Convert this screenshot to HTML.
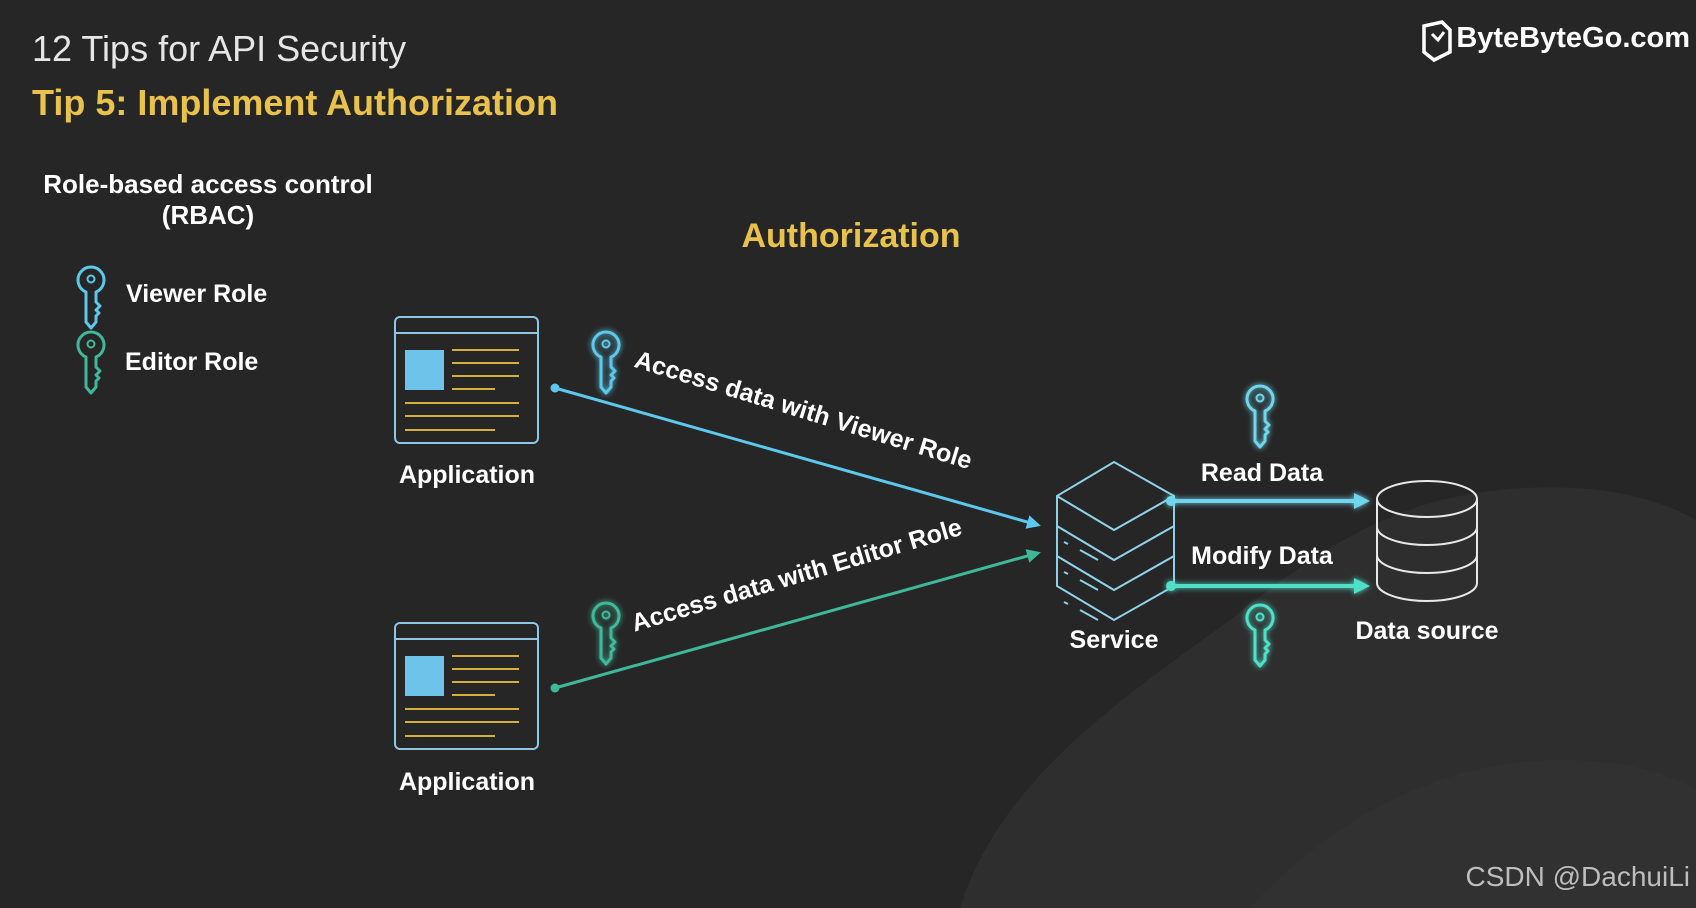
<!DOCTYPE html>
<html><head><meta charset="utf-8"><style>
html,body{margin:0;padding:0;background:#262626;}
svg{display:block}
text{font-family:"Liberation Sans",sans-serif;}
</style></head><body>
<svg width="1696" height="908" viewBox="0 0 1696 908" xmlns="http://www.w3.org/2000/svg">
<defs>
<filter id="glow" x="-50%" y="-50%" width="200%" height="200%"><feGaussianBlur stdDeviation="3" result="b"/><feMerge><feMergeNode in="b"/><feMergeNode in="SourceGraphic"/></feMerge></filter>
<g id="key" fill="none" stroke-width="3" stroke-linejoin="round">
<path d="M-5,10 A13,13 0 1 1 5,10 L5,20 L9,24 L5,28 L8,31 L5,34 L5,40 L0,46 L-5,40 Z"/>
<circle cx="0" cy="-3" r="3.5" stroke-width="2"/>
</g>
<marker id="ab" markerWidth="14" markerHeight="14" refX="11" refY="7" orient="auto" markerUnits="userSpaceOnUse"><path d="M0,0 L14,7 L0,14 Z" fill="#5cc8ec"/></marker>
<marker id="ag" markerWidth="14" markerHeight="14" refX="11" refY="7" orient="auto" markerUnits="userSpaceOnUse"><path d="M0,0 L14,7 L0,14 Z" fill="#3fb89a"/></marker>
<marker id="ab2" markerWidth="16" markerHeight="16" refX="12" refY="8" orient="auto" markerUnits="userSpaceOnUse"><path d="M0,0 L16,8 L0,16 Z" fill="#6fd6ec"/></marker>
<marker id="ag2" markerWidth="16" markerHeight="16" refX="12" refY="8" orient="auto" markerUnits="userSpaceOnUse"><path d="M0,0 L16,8 L0,16 Z" fill="#4fe0c8"/></marker>
</defs>
<rect width="1696" height="908" fill="#262626"/>
<path d="M960,908 C1000,780 1120,700 1230,620 C1330,540 1400,500 1500,490 C1600,480 1660,500 1696,520 L1696,908 Z" fill="#2e2e2e"/>
<path d="M1250,908 C1330,820 1440,760 1560,760 C1640,760 1680,780 1696,790 L1696,908 Z" fill="#313131"/>

<text x="32" y="61" font-size="36" fill="#e6e6e6">12 Tips for API Security</text>
<text x="32" y="115" font-size="36" fill="#e8c24a" font-weight="bold">Tip 5: Implement Authorization</text>
<g transform="translate(1420,22)"><path d="M4,4 L22,0 L30,8 L30,30 L14,38 L4,30 Z" fill="none" stroke="#fff" stroke-width="3.5"/><path d="M12,12 L18,18 L24,10" fill="none" stroke="#fff" stroke-width="3"/></g>
<text x="1690" y="47" font-size="29" fill="#fff" font-weight="bold" text-anchor="end">ByteByteGo.com</text>

<text x="208" y="193" font-size="26" fill="#fff" font-weight="bold" text-anchor="middle">Role-based access control</text>
<text x="208" y="224" font-size="26" fill="#fff" font-weight="bold" text-anchor="middle">(RBAC)</text>
<use href="#key" x="91" y="282" stroke="#5cc8ec"/>
<text x="126" y="302" font-size="25" fill="#fff" font-weight="bold">Viewer Role</text>
<use href="#key" x="91" y="347" stroke="#3fb89a"/>
<text x="125" y="370" font-size="25" fill="#fff" font-weight="bold">Editor Role</text>

<text x="851" y="247" font-size="34" fill="#e8c24a" font-weight="bold" text-anchor="middle">Authorization</text>

<g id="app" fill="none">
<rect x="395" y="317" width="143" height="126" rx="5" stroke="#8ec6e6" stroke-width="2"/>
<line x1="395" y1="333" x2="538" y2="333" stroke="#8ec6e6" stroke-width="2"/>
<rect x="405" y="350" width="39" height="40" fill="#6ec3ea"/>
<g stroke="#d4b03a" stroke-width="2"><line x1="452" y1="350" x2="519" y2="350"/><line x1="452" y1="363" x2="519" y2="363"/><line x1="452" y1="376" x2="519" y2="376"/><line x1="452" y1="389" x2="495" y2="389"/><line x1="405" y1="403" x2="519" y2="403"/><line x1="405" y1="416" x2="519" y2="416"/><line x1="405" y1="430" x2="495" y2="430"/></g>
</g>
<use href="#app" y="306"/>
<text x="467" y="483" font-size="25" fill="#fff" font-weight="bold" text-anchor="middle">Application</text>
<text x="467" y="790" font-size="25" fill="#fff" font-weight="bold" text-anchor="middle">Application</text>

<use href="#key" x="606" y="347" stroke="#5cc8ec" filter="url(#glow)"/>
<use href="#key" x="606" y="618" stroke="#3fb89a" filter="url(#glow)"/>

<circle cx="555" cy="388" r="4.5" fill="#5cc8ec"/>
<line x1="555" y1="388" x2="1038" y2="525" stroke="#5cc8ec" stroke-width="3" marker-end="url(#ab)"/>
<circle cx="555" cy="688" r="4.5" fill="#3fb89a"/>
<line x1="555" y1="688" x2="1038" y2="553" stroke="#3fb89a" stroke-width="3" marker-end="url(#ag)"/>
<text transform="translate(801,418) rotate(17)" font-size="25" fill="#fff" font-weight="bold" text-anchor="middle">Access data with Viewer Role</text>
<text transform="translate(799,583) rotate(-16.5)" font-size="25" fill="#fff" font-weight="bold" text-anchor="middle">Access data with Editor Role</text>

<g fill="#262626" stroke="#8ed0e6" stroke-width="2" stroke-linejoin="round">
<path d="M1057,556 L1114,590 L1174,556 L1174,586 L1114,620 L1057,586 Z"/>
<path d="M1057,526 L1114,560 L1174,526 L1174,556 L1114,590 L1057,556 Z"/>
<path d="M1057,496 L1114,530 L1174,496 L1174,526 L1114,560 L1057,526 Z"/>
<path d="M1057,496 L1114,462 L1174,496 L1114,530 Z"/>
<path d="M1064,542 L1068,544 M1080,550 L1098,560 M1064,572 L1068,574 M1080,580 L1098,590 M1064,602 L1068,604 M1080,610 L1098,620" fill="none"/>
</g>
<text x="1114" y="648" font-size="25" fill="#fff" font-weight="bold" text-anchor="middle">Service</text>

<g filter="url(#glow)">
<line x1="1171" y1="501" x2="1366" y2="501" stroke="#6fd6ec" stroke-width="4" marker-end="url(#ab2)"/>
<circle cx="1171" cy="501" r="5" fill="#6fd6ec"/>
<line x1="1171" y1="586" x2="1366" y2="586" stroke="#4fe0c8" stroke-width="4" marker-end="url(#ag2)"/>
<circle cx="1171" cy="586" r="5" fill="#4fe0c8"/>
<use href="#key" x="1260" y="401" stroke="#6fd6ec"/>
<use href="#key" x="1260" y="620" stroke="#4fe0c8"/>
</g>
<text x="1262" y="481" font-size="25" fill="#fff" font-weight="bold" text-anchor="middle">Read Data</text>
<text x="1262" y="564" font-size="25" fill="#fff" font-weight="bold" text-anchor="middle">Modify Data</text>

<g fill="none" stroke="#e8e8e8" stroke-width="2">
<path d="M1377,499 L1377,583 A50,18 0 0 0 1477,583 L1477,499"/>
<ellipse cx="1427" cy="499" rx="50" ry="18"/>
<path d="M1377,527 A50,18 0 0 0 1477,527"/>
<path d="M1377,555 A50,18 0 0 0 1477,555"/>
</g>
<text x="1427" y="639" font-size="25" fill="#fff" font-weight="bold" text-anchor="middle">Data source</text>

<text x="1690" y="886" font-size="28" fill="#bdbdbd" text-anchor="end">CSDN @DachuiLi</text>
</svg>
</body></html>
